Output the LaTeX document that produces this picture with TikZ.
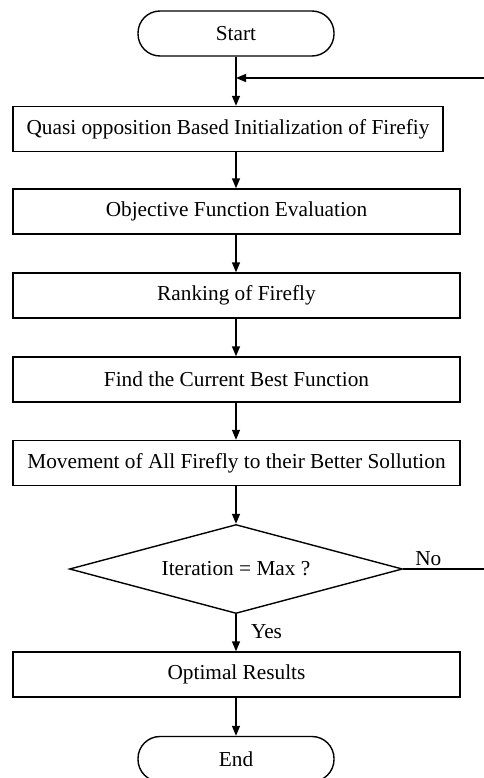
\documentclass[tikz,border=0pt]{standalone}
\usepackage{fontspec}
\setmainfont{Liberation Serif}
\usetikzlibrary{arrows.meta,shapes.geometric}
\begin{document}
\begin{tikzpicture}[x=1pt,y=-1pt,
  every node/.style={font=\fontsize{21.3}{25}\selectfont},
  term/.style={draw,line width=1.4pt,rounded corners=22pt,minimum width=196pt,minimum height=45pt,inner sep=0pt},
  proc/.style={draw,line width=1.4pt,minimum height=45pt,inner sep=0pt},
  dec/.style={draw,line width=1.4pt,diamond,aspect=3.74,minimum width=333pt,minimum height=89pt,inner sep=0pt},
  conn/.style={line width=1.4pt,-{Triangle[length=10pt,width=8pt]}},
  plain/.style={line width=1.4pt}]
\useasboundingbox[fill=white] (0,0) rectangle (483,778);
\node[term] (start) at (236,33.5) {Start};
\node[proc,minimum width=430pt] (b1) at (228,129) {Quasi opposition Based Initialization of Firefiy};
\node[proc,minimum width=447pt] (b2) at (236.5,211.5) {Objective Function Evaluation};
\node[proc,minimum width=447pt] (b3) at (236.5,295.5) {Ranking of Firefly};
\node[proc,minimum width=447pt] (b4) at (236.5,379.5) {Find the Current Best Function};
\node[proc,minimum width=447pt] (b5) at (236.5,463) {Movement of All Firefly to their Better Sollution};
\node[dec] (dia) at (236,569) {Iteration = Max ?};
\node[proc,minimum width=447pt] (b6) at (236.5,674.5) {Optimal Results};
\node[term] (end) at (236,759) {End};
\coordinate (merge) at (236,78);
\coordinate (rb) at (487,569);
\coordinate (rt) at (487,78);
\draw[conn] (start.south) -- (start.south |- b1.north);
\draw[conn] (rb) -- (rt) -- (merge);
\draw[conn] (start.south |- b1.south) -- (start.south |- b2.north);
\draw[conn] (start.south |- b2.south) -- (start.south |- b3.north);
\draw[conn] (start.south |- b3.south) -- (start.south |- b4.north);
\draw[conn] (start.south |- b4.south) -- (start.south |- b5.north);
\draw[conn] (start.south |- b5.south) -- (dia.north);
\draw[conn] (dia.south) -- node[right,xshift=11pt,yshift=1pt]{Yes} (dia.south |- b6.north);
\draw[conn] (dia.south |- b6.south) -- (end.north);
\draw[plain] (dia.east) -- node[above,pos=0.3,yshift=-1pt]{No} (rb);
\end{tikzpicture}
\end{document}
